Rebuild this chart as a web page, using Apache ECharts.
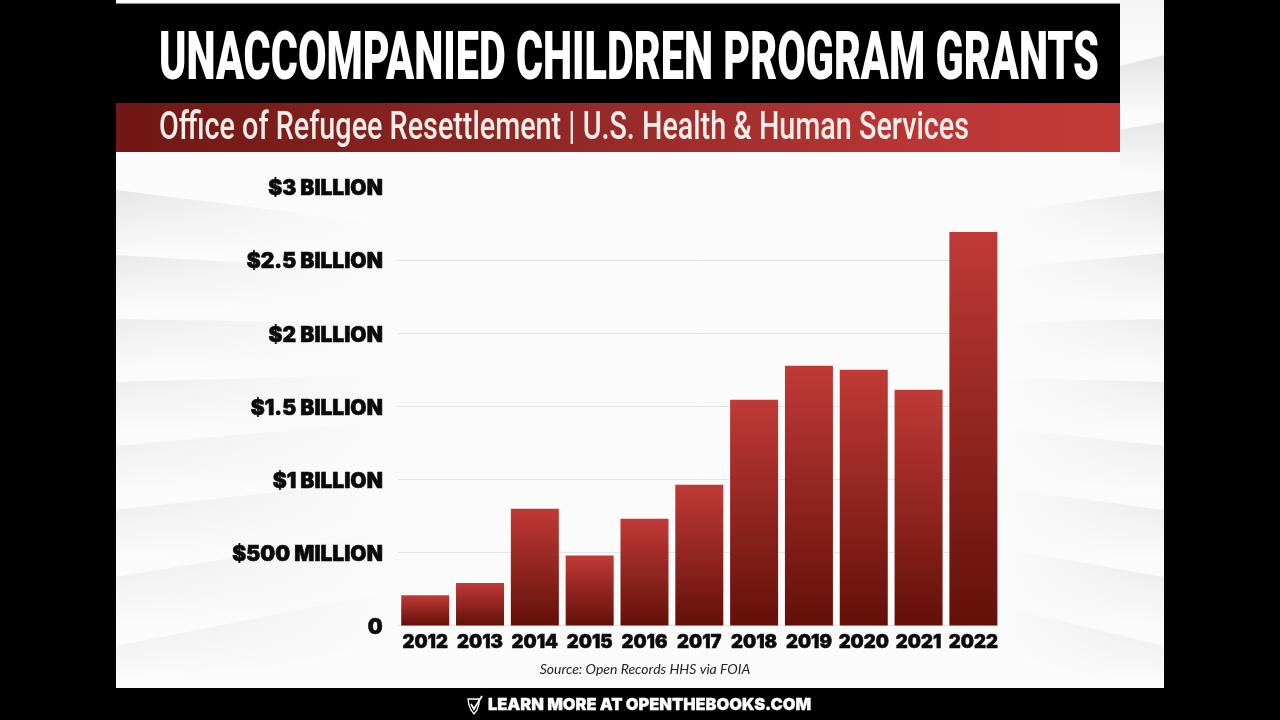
<!DOCTYPE html>
<html><head><meta charset="utf-8">
<style>html,body{margin:0;padding:0;background:#000;width:1280px;height:720px;overflow:hidden}#c{width:1280px;height:720px}</style>
<script src="https://cdn.jsdelivr.net/npm/echarts@6/dist/echarts.min.js"></script>
</head><body><div id="c"></div>
<script>
const years=['2012','2013','2014','2015','2016','2017','2018','2019','2020','2021','2022'];
const grants=[0.208,0.292,0.80,0.48,0.73,0.963,1.545,1.778,1.75,1.613,2.692];
const tickLabels={0:'0',0.5:'$500 MILLION',1:'$1 BILLION',1.5:'$1.5 BILLION',2:'$2 BILLION',2.5:'$2.5 BILLION',3:'$3 BILLION'};
const titleText='UNACCOMPANIED CHILDREN PROGRAM GRANTS';
const subtitleText='Office of Refugee Resettlement | U.S. Health & Human Services';
const sourceText='Source: Open Records HHS via FOIA';
const footerText='LEARN MORE AT OPENTHEBOOKS.COM';

const chart=echarts.init(document.getElementById('c'),null,{renderer:'canvas'});
const HEAVY='Inter, Lato, sans-serif';
const G=echarts.graphic;
const PAPER='#fbfbfb';
const ctx=document.createElement('canvas').getContext('2d');
function fitX(text,font,w){ctx.font=font;return w/ctx.measureText(text).width;}

function band(x0,x1,yEdge,yFar,yEdge2,yFar2,dark){
 return {type:'polygon',silent:true,z:-8,shape:{points:[[x0,yEdge],[x1,yFar],[x1,yFar2],[x0,yEdge2]]},
  style:{fill:new G.LinearGradient(0,0,0,1,[{offset:0,color:dark},{offset:.8,color:PAPER},{offset:1,color:PAPER}])}};
}
const leftEdges=[[190,226],[255,272],[319,324],[382,374],[446,420],[510,478],[577,530],[646,590],[700,640]];
const rightEdges=[[190,212],[253,268],[319,322],[382,378],[446,428],[510,488],[577,548],[646,606],[700,650]];
const darks=['#e6e6e6','#e9e9e9','#ececec','#ececec','#eaeaea','#e8e8e8','#e7e7e7','#e6e6e6'];
const bg=[{type:'rect',z:-10,silent:true,shape:{x:116,y:0,width:1048,height:688},style:{fill:PAPER}}];
for(let i=0;i<darks.length;i++){
 bg.push(band(116,400,leftEdges[i][0],leftEdges[i][1],leftEdges[i+1][0],leftEdges[i+1][1],darks[i]));
 bg.push(band(1164,1000,rightEdges[i][0],rightEdges[i][1],rightEdges[i+1][0],rightEdges[i+1][1],darks[i]));
}
bg.push(band(1164,1120,0,0,55,66,'#f4f4f4'));
bg.push(band(1164,1120,55,66,122,130,'#e4e4e4'));
bg.push(band(1164,1120,122,130,190,190,'#e6e6e6'));
bg.push({type:'rect',silent:true,z:-7,shape:{x:116,y:152,width:290,height:536},style:{fill:new G.LinearGradient(0,0,1,0,[{offset:0,color:'rgba(251,251,251,0)'},{offset:.95,color:'rgba(251,251,251,1)'}])}});
bg.push({type:'rect',silent:true,z:-7,shape:{x:1000,y:152,width:164,height:536},style:{fill:new G.LinearGradient(0,0,1,0,[{offset:0,color:'rgba(251,251,251,1)'},{offset:1,color:'rgba(251,251,251,0)'}])}});
bg.push({type:'rect',silent:true,z:5,shape:{x:998,y:180,width:4,height:450},style:{fill:PAPER}});

const titleFont='900 67px Roboto', subFont='500 38px Roboto';
const head=[
 {type:'rect',silent:true,z:1,shape:{x:116,y:3,width:1004,height:1},style:{fill:'#888'}},
 {type:'rect',silent:true,z:1,shape:{x:116,y:4,width:1004,height:99},style:{fill:'#000'}},
 {type:'rect',silent:true,z:1,shape:{x:116,y:103,width:1004,height:49},style:{fill:new G.LinearGradient(0,0,1,0,[{offset:0,color:'#6f1714'},{offset:.5,color:'#962b29'},{offset:.8,color:'#b93634'},{offset:1,color:'#c23b38'}])}},
 {type:'rect',silent:true,z:1,shape:{x:116,y:688,width:1048,height:32},style:{fill:'#000'}},
 {type:'text',silent:true,z:2,x:159,y:62,scaleX:fitX(titleText,titleFont,940),style:{text:titleText,fill:'#fff',font:titleFont,verticalAlign:'middle'}},
 {type:'text',silent:true,z:2,x:159,y:129,scaleX:fitX(subtitleText,subFont,810),style:{text:subtitleText,fill:'#f6ecea',font:subFont,verticalAlign:'middle'}},
 {type:'text',silent:true,z:2,x:645,y:669,style:{text:sourceText,fill:'#222',font:'italic 400 14px Lato',align:'center',verticalAlign:'middle'}},
 {type:'text',silent:true,z:2,x:488,y:705,style:{text:footerText,fill:'#fff',stroke:'#fff',lineWidth:.3,font:'900 16.4px '+HEAVY,verticalAlign:'middle'}},
 {type:'polygon',silent:true,z:2,shape:{points:[[468,699],[479,699],[479,704],[477,710],[474,714],[471,710],[469,705]]},style:{fill:'none',stroke:'#fff',lineWidth:1.3}},
 {type:'polyline',silent:true,z:2,shape:{points:[[471,704],[474,709],[482,696]]},style:{fill:'none',stroke:'#fff',lineWidth:1.8}}
];
const yLabelStyle={color:'#0a0a0a',fontFamily:HEAVY,fontWeight:900,fontSize:21,textBorderColor:'#0a0a0a',textBorderWidth:.6};
chart.setOption({
 backgroundColor:'#000',animation:false,
 grid:{left:397.8,width:603,top:187,height:438.6,containLabel:false},
 xAxis:{type:'category',data:years,axisLine:{show:false},axisTick:{show:false},
  axisLabel:{interval:0,color:'#0a0a0a',fontFamily:HEAVY,fontWeight:900,fontSize:18.5,margin:7,textBorderColor:'#0a0a0a',textBorderWidth:.5}},
 yAxis:{type:'value',min:0,max:3,interval:0.5,axisLine:{show:false},axisTick:{show:false},
  axisLabel:Object.assign({},yLabelStyle,{margin:15,formatter:v=>'{a|'+tickLabels[v]+'}',rich:{a:Object.assign({},yLabelStyle,{padding:[4,0,0,0]})}}),
  splitLine:{show:true,lineStyle:{color:['#e4e4e4','#e4e4e4','#e4e4e4','#e4e4e4','#e4e4e4','#e4e4e4','rgba(0,0,0,0)'],width:1}}},
 series:[{type:'bar',data:grants,barWidth:48,z:6,
  itemStyle:{color:new G.LinearGradient(0,0,0,1,[{offset:0,color:'#c03a37'},{offset:1,color:'#631009'}])}}],
 graphic:{elements:bg.concat(head)}
});
</script></body></html>
